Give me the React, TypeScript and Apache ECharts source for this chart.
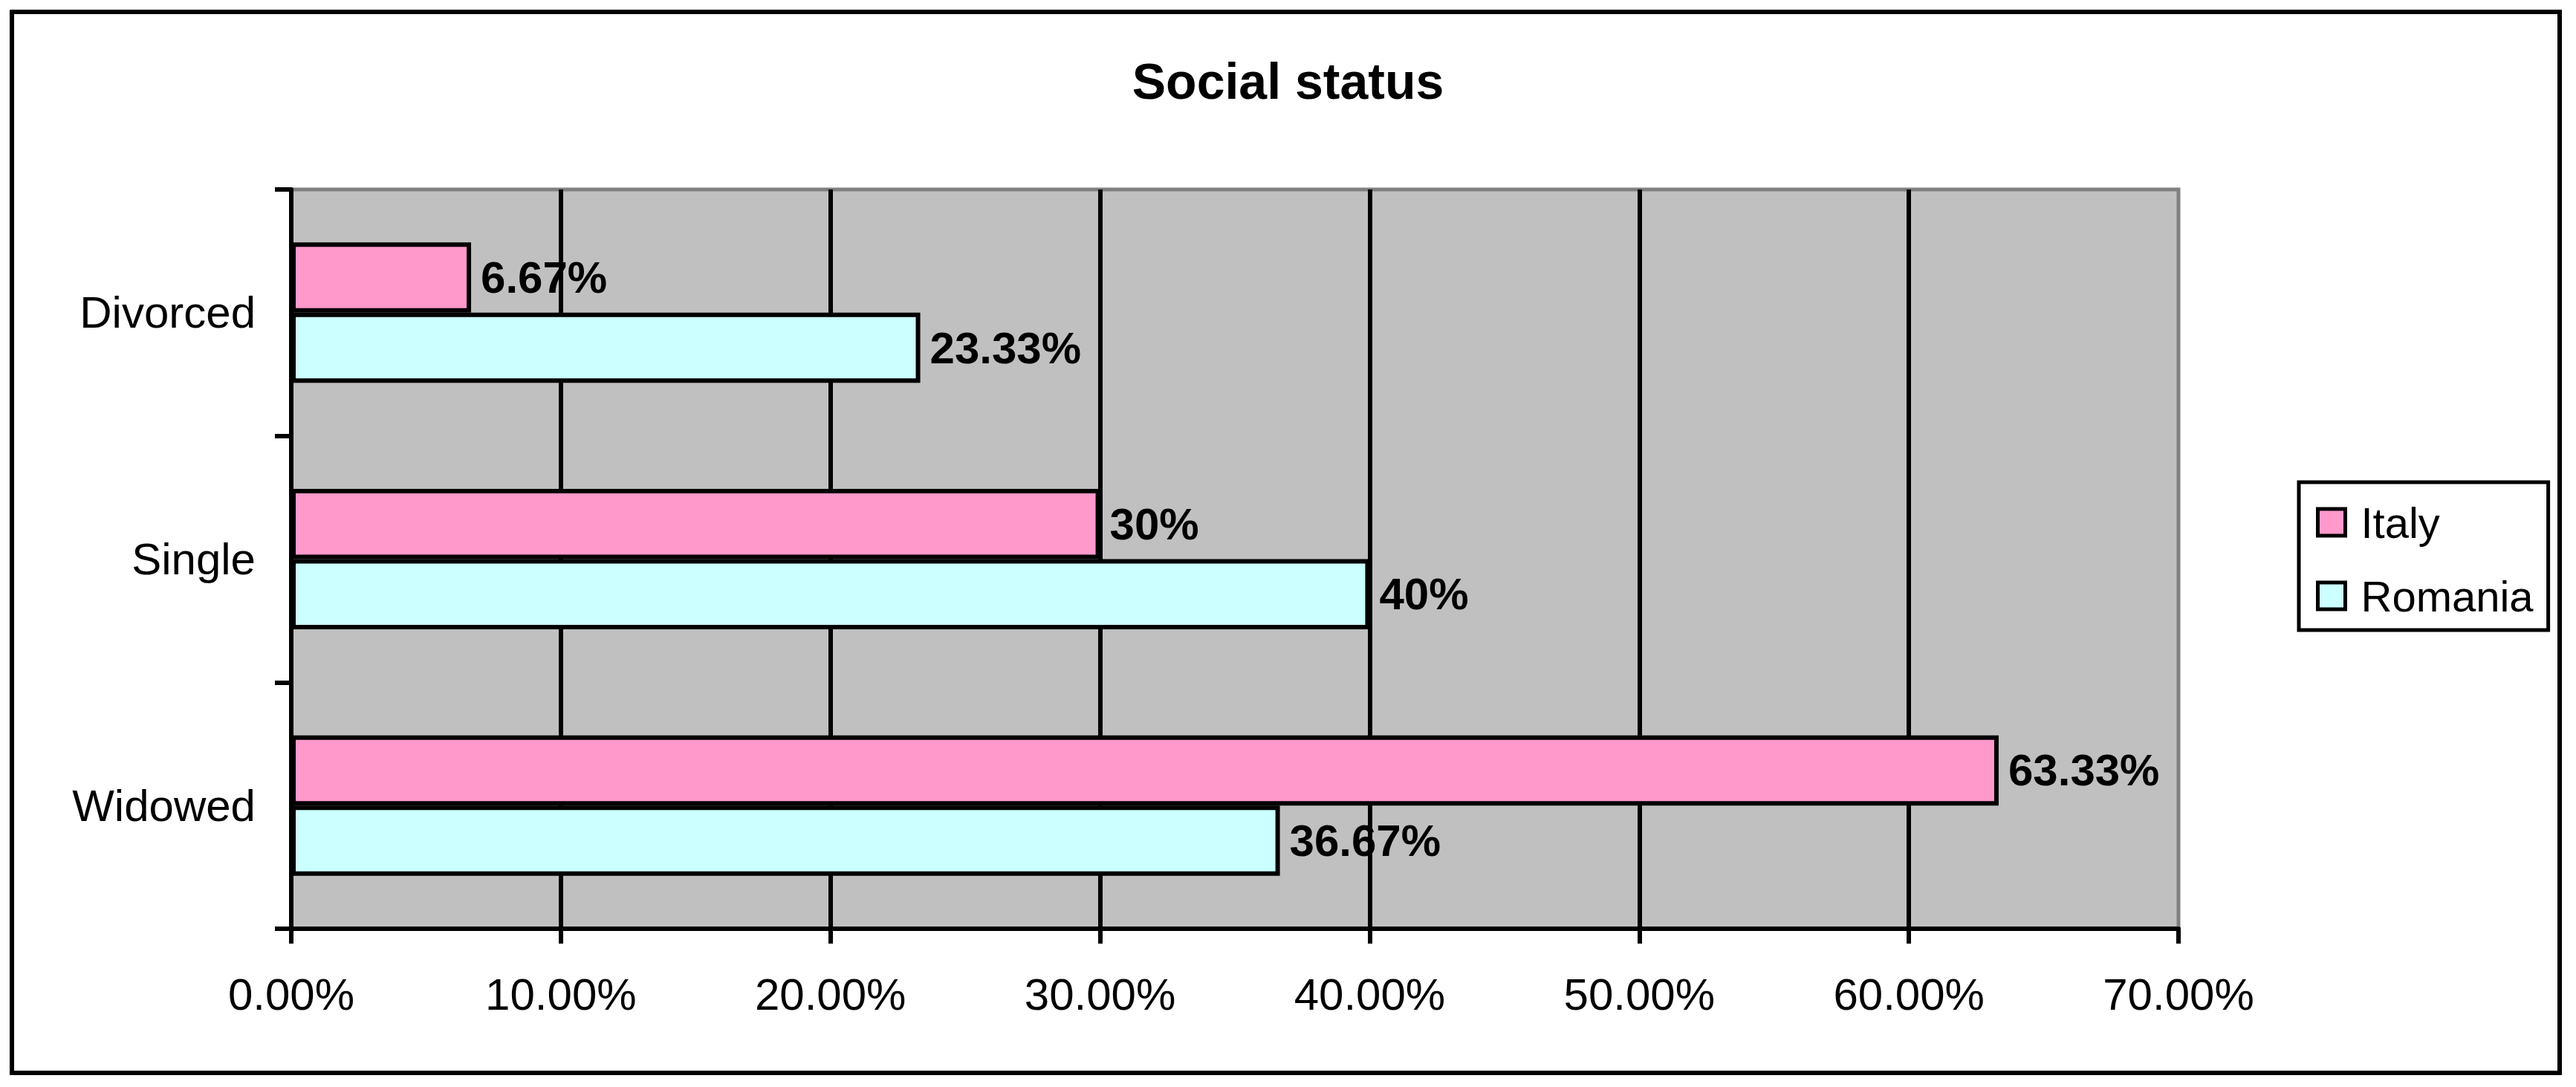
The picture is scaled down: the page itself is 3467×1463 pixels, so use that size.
import React, { useEffect, useRef } from "react";
import * as echarts from "echarts";

const categories = ["Divorced", "Single", "Widowed"];
const italyValues = [6.67, 30, 63.33];
const romaniaValues = [23.33, 40, 36.67];
const seriesNames = ["Italy", "Romania"];
const axisMin = 0;
const axisMax = 70;
const axisStep = 10;

const FONT = "Arial, 'Liberation Sans', sans-serif";
const LW = 6;

export default function App() {
  const ref = useRef<HTMLDivElement>(null);
  useEffect(() => {
    if (!ref.current) return;
    const chart = echarts.init(ref.current, null, { renderer: "svg" });
    const labelCfg = {
      show: true,
      position: "right",
      distance: 13,
      fontFamily: FONT,
      fontSize: 60,
      fontWeight: "bold",
      color: "#000",
      formatter: (p: any) => `${p.value}%`,
    };
    chart.setOption({
      animation: false,
      backgroundColor: "#fff",
      textStyle: { fontFamily: FONT },
      title: {
        text: "Social status",
        left: "center",
        top: 70,
        textStyle: { fontFamily: FONT, fontSize: 68, fontWeight: "bold", color: "#000" },
      },
      graphic: [
        {
          type: "rect",
          shape: { x: 16, y: 16, width: 3429, height: 1428 },
          style: { fill: "none", stroke: "#000", lineWidth: LW },
          silent: true,
          z: 100,
        },
      ],
      legend: {
        orient: "vertical",
        left: 3094,
        top: 649,
        padding: [24, 20, 16, 23],
        borderColor: "#000",
        borderWidth: 5,
        backgroundColor: "#fff",
        itemWidth: 37,
        itemHeight: 36,
        itemGap: 39,
        icon: "rect",
        itemStyle: { borderColor: "#000", borderWidth: 5 },
        textStyle: {
          fontFamily: FONT,
          fontSize: 58,
          lineHeight: 60,
          color: "#000",
          padding: [0, 0, 0, 16],
        },
        data: seriesNames,
      },
      grid: {
        left: 392,
        right: 535,
        top: 255,
        bottom: 213,
        containLabel: false,
        show: true,
        backgroundColor: "#C0C0C0",
        borderColor: "#808080",
        borderWidth: 5,
      },
      xAxis: {
        type: "value",
        min: axisMin,
        max: axisMax,
        interval: axisStep,
        axisLine: { show: true, lineStyle: { color: "#000", width: LW } },
        axisTick: { show: true, length: 20, lineStyle: { color: "#000", width: LW } },
        splitLine: {
          show: true,
          showMinLine: false,
          showMaxLine: false,
          lineStyle: { color: "#000", width: LW },
        },
        axisLabel: {
          fontFamily: FONT,
          fontSize: 60,
          color: "#000",
          margin: 58,
          formatter: (v: number) => `${v.toFixed(2)}%`,
        },
      },
      yAxis: {
        type: "category",
        inverse: true,
        data: categories,
        axisLine: { show: true, lineStyle: { color: "#000", width: LW } },
        axisTick: { show: true, length: 22, lineStyle: { color: "#000", width: LW } },
        axisLabel: {
          fontFamily: FONT,
          fontSize: 60,
          color: "#000",
          margin: 48,
        },
      },
      series: [
        {
          name: seriesNames[0],
          type: "bar",
          data: italyValues,
          barGap: "0%",
          barCategoryGap: "43%",
          itemStyle: { color: "#FF99CC", borderColor: "#000", borderWidth: LW },
          label: labelCfg,
        },
        {
          name: seriesNames[1],
          type: "bar",
          data: romaniaValues,
          barGap: "0%",
          barCategoryGap: "43%",
          itemStyle: { color: "#CCFFFF", borderColor: "#000", borderWidth: LW },
          label: labelCfg,
        },
      ],
    });
    return () => chart.dispose();
  }, []);
  return (
    <div
      ref={ref}
      style={{ position: "fixed", left: 0, top: 0, width: 3467, height: 1463 }}
    />
  );
}
